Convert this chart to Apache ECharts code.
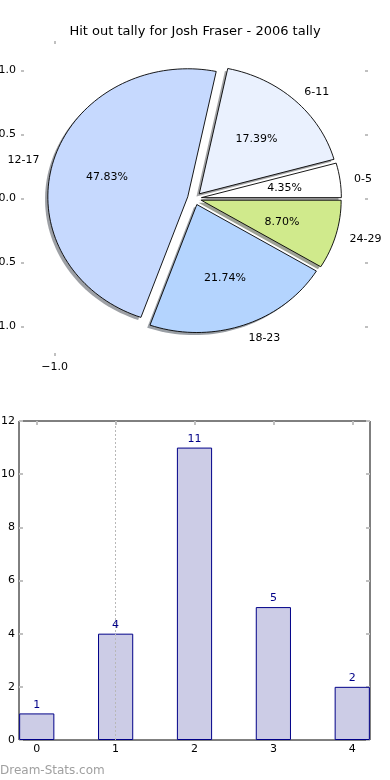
<!DOCTYPE html>
<html>
<head>
<meta charset="utf-8">
<script src="https://cdn.jsdelivr.net/npm/echarts@6/dist/echarts.min.js"></script>
<style>html,body{margin:0;padding:0;background:#fff}#c{width:390px;height:780px}</style>
</head>
<body>
<div id="c"></div>
<script>
// ---- data ----
const titleText = 'Hit out tally for Josh Fraser - 2006 tally';
const pieLabels = ['0-5', '6-11', '12-17', '18-23', '24-29'];
const pieValues = [1, 4, 11, 5, 2];
const pieXTicks = [-1.0];
const pieYTicks = [-1.0, -0.5, 0.0, 0.5, 1.0];
const barCategories = [0, 1, 2, 3, 4];
const barValues = [1, 4, 11, 5, 2];
const barYTicks = [0, 2, 4, 6, 8, 10, 12];
const markedCategory = 1;
const watermark = 'Dream-Stats.com';

// ---- styles ----
const FONT = 'DejaVu Sans, sans-serif';
const pieColors = ['#ffffff', '#eaf1fe', '#c6d9fe', '#b4d4fe', '#d0ea8c'];
const EXPLODE = 0.05, LABEL_D = 1.1, PCT_D = 0.6, SHADOW_OFF = -0.02;
const TEXT_DY = 1;
const tickGrey = '#c0c0c0';

const total = pieValues.reduce((a, b) => a + b, 0);
const cum = [];
pieValues.reduce((a, v, i) => { cum[i] = a; return a + v; }, 0);

function hexToRgb(h) {
  return [parseInt(h.slice(1, 3), 16), parseInt(h.slice(3, 5), 16), parseInt(h.slice(5, 7), 16)];
}
function wedgePoints(api, i, ox, oy) {
  const a0 = cum[i] / total * 2 * Math.PI;
  const a1 = (cum[i] + pieValues[i]) / total * 2 * Math.PI;
  const am = (a0 + a1) / 2;
  const cx = EXPLODE * Math.cos(am) + ox, cy = EXPLODE * Math.sin(am) + oy;
  const pts = [api.coord([cx, cy])];
  const n = Math.max(8, Math.ceil((a1 - a0) / (Math.PI / 90)));
  for (let k = 0; k <= n; k++) {
    const a = a0 + (a1 - a0) * k / n;
    pts.push(api.coord([cx + Math.cos(a), cy + Math.sin(a)]));
  }
  return { pts, am, cx, cy };
}

function renderShadow(params, api) {
  const i = params.dataIndex;
  const w = wedgePoints(api, i, SHADOW_OFF, SHADOW_OFF);
  const c = hexToRgb(pieColors[i]).map(v => Math.round(v * 0.3));
  return { type: 'polygon', shape: { points: w.pts },
    style: { fill: `rgba(${c[0]},${c[1]},${c[2]},0.5)`, stroke: null } };
}

function renderWedge(params, api) {
  const i = params.dataIndex;
  const w = wedgePoints(api, i, 0, 0);
  const ca = Math.cos(w.am), sa = Math.sin(w.am);
  const lp = api.coord([w.cx + LABEL_D * ca, w.cy + LABEL_D * sa]);
  const pp = api.coord([w.cx + PCT_D * ca, w.cy + PCT_D * sa]);
  const pct = (pieValues[i] / total * 100).toFixed(2) + '%';
  return { type: 'group', children: [
    { type: 'polygon', shape: { points: w.pts },
      style: { fill: pieColors[i], stroke: '#000', lineWidth: 0.9, lineJoin: 'round' } },
    { type: 'text', x: lp[0], y: lp[1] + TEXT_DY, z2: 10,
      style: { text: pieLabels[i], fill: '#000', font: '11px ' + FONT,
        align: ca > 0 ? 'left' : 'right', verticalAlign: 'middle' } },
    { type: 'text', x: pp[0], y: pp[1] + TEXT_DY, z2: 10,
      style: { text: pct, fill: '#000', font: '11px ' + FONT,
        align: 'center', verticalAlign: 'middle' } }
  ] };
}

const fmt1 = v => (v < 0 ? '\u2212' : '') + Math.abs(v).toFixed(1);
const lbl = { color: '#000', fontSize: 11, fontFamily: FONT };
const tick = len => ({ show: true, inside: true, length: len, lineStyle: { color: tickGrey, width: 2 } });
const noLine = { show: false, onZero: false };

const chart = echarts.init(document.getElementById('c'), null, { renderer: 'canvas' });
chart.setOption({
  animation: false,
  backgroundColor: '#fff',
  title: { text: titleText, left: 'center', top: 20,
    textStyle: { fontSize: 13, fontWeight: 'normal', color: '#000', fontFamily: FONT } },
  graphic: [{ type: 'text', left: 0, top: 765,
    style: { text: watermark, fill: '#a0a0a0', font: '12px ' + FONT } }],
  grid: [
    { left: 21, right: 22, top: 41, bottom: 424, show: false, containLabel: false, outerBoundsMode: 'none' },
    { left: 19, right: 20, top: 421, bottom: 40, show: true, borderColor: '#000', borderWidth: 1,
      containLabel: false, outerBoundsMode: 'none' }
  ],
  xAxis: [
    { gridIndex: 0, type: 'value', min: -1.24, max: 1.24, position: 'bottom',
      axisLine: noLine, splitLine: { show: false },
      axisTick: Object.assign(tick(3), { customValues: pieXTicks }),
      axisLabel: Object.assign({ customValues: pieXTicks, formatter: fmt1, margin: 6 }, lbl) },
    { gridIndex: 0, type: 'value', min: -1.24, max: 1.24, position: 'top',
      axisLine: noLine, splitLine: { show: false },
      axisTick: Object.assign(tick(3), { customValues: pieXTicks }),
      axisLabel: { show: false } },
    { gridIndex: 1, type: 'value', min: -0.225, max: 4.225, position: 'bottom',
      axisLine: noLine, splitLine: { show: false },
      axisTick: Object.assign(tick(4), { customValues: barCategories }),
      axisLabel: Object.assign({ customValues: barCategories, margin: 4 }, lbl) },
    { gridIndex: 1, type: 'value', min: -0.225, max: 4.225, position: 'top',
      axisLine: noLine, splitLine: { show: false },
      axisTick: Object.assign(tick(4), { customValues: barCategories }),
      axisLabel: { show: false } }
  ],
  yAxis: [
    { gridIndex: 0, type: 'value', min: -1.2305, max: 1.2305, position: 'left',
      axisLine: noLine, splitLine: { show: false },
      axisTick: Object.assign(tick(3), { customValues: pieYTicks }),
      axisLabel: Object.assign({ customValues: pieYTicks, formatter: fmt1, margin: 5 }, lbl) },
    { gridIndex: 0, type: 'value', min: -1.2305, max: 1.2305, position: 'right',
      axisLine: noLine, splitLine: { show: false },
      axisTick: Object.assign(tick(3), { customValues: pieYTicks }),
      axisLabel: { show: false } },
    { gridIndex: 1, type: 'value', min: 0, max: 12, position: 'left',
      axisLine: noLine, splitLine: { show: false },
      axisTick: Object.assign(tick(4), { customValues: barYTicks }),
      axisLabel: Object.assign({ customValues: barYTicks, margin: 4 }, lbl) },
    { gridIndex: 1, type: 'value', min: 0, max: 12, position: 'right',
      axisLine: noLine, splitLine: { show: false },
      axisTick: Object.assign(tick(4), { customValues: barYTicks }),
      axisLabel: { show: false } }
  ],
  series: [
    { type: 'custom', xAxisIndex: 0, yAxisIndex: 0, z: 1, clip: false,
      data: pieValues.map((v, i) => [0, 0, v, i]), encode: { x: 0, y: 1 },
      renderItem: renderShadow, silent: true },
    { type: 'custom', xAxisIndex: 0, yAxisIndex: 0, z: 2, clip: false,
      data: pieValues.map((v, i) => [0, 0, v, i]), encode: { x: 0, y: 1 },
      renderItem: renderWedge, silent: true },
    { type: 'bar', xAxisIndex: 2, yAxisIndex: 2, barWidth: 35.2,
      data: barCategories.map((c, i) => [c, barValues[i]]),
      itemStyle: { color: '#cccce6', borderColor: '#000088', borderWidth: 1 },
      label: { show: true, position: 'top', distance: 3, color: '#000088', fontSize: 11, fontFamily: FONT },
      markLine: { silent: true, symbol: 'none', label: { show: false },
        lineStyle: { type: [2, 2], color: '#b8b8b8', width: 1 },
        data: [{ xAxis: markedCategory }] } }
  ]
});
</script>
</body>
</html>
